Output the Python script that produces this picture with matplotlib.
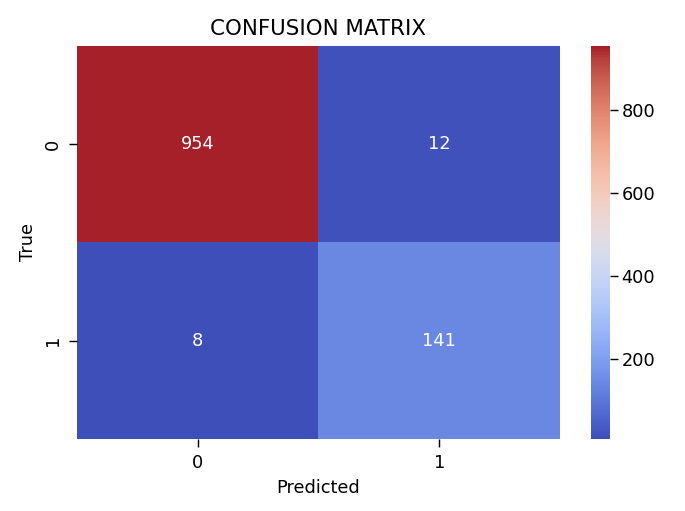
import matplotlib
matplotlib.use("Agg")
import matplotlib.pyplot as plt
from matplotlib.colors import ListedColormap
import seaborn as sns
import numpy as np

# confusion matrix values, rows = true, cols = predicted
labels = ["0", "1"]
row_0 = [954, 12]
row_1 = [8, 141]
cm = np.array([row_0, row_1])

plt.rcParams["font.family"] = ["DejaVu Sans"]

# the reference's coolwarm looks a bit muted (screen colour profile?),
# so nudge matplotlib's coolwarm towards the sampled cell colours
src = np.array([[180, 4, 38], [59, 76, 192], [103, 136, 238], [255, 255, 255]]) / 255
dst = np.array([[165, 32, 41], [63, 79, 186], [107, 136, 227], [255, 255, 255]]) / 255
A = np.linalg.solve(np.c_[src, np.ones(4)], dst)
base = plt.get_cmap("coolwarm")(np.linspace(0, 1, 256))[:, :3]
muted = np.clip(np.c_[base, np.ones(256)] @ A, 0, 1)
cmap = ListedColormap(muted)

DPI = 128
fig = plt.figure(figsize=(685 / DPI, 511 / DPI), dpi=DPI)
ax = fig.add_axes([0.1124, 0.1415, 0.705, 0.7685])
cax = fig.add_axes([0.8628, 0.1415, 0.0277, 0.7685])

sns.heatmap(cm, annot=True, fmt="d", cmap=cmap, ax=ax, cbar_ax=cax,
            xticklabels=labels, yticklabels=labels)

ax.set_title("CONFUSION MATRIX", fontsize=12)
ax.set_xlabel("Predicted")
ax.set_ylabel("True")
ax.tick_params(length=4.5, pad=4)
cax.tick_params(length=4.5, pad=2)
cax.set_yticks([200, 400, 600, 800])

fig.savefig("out.png", dpi=DPI, facecolor="white")
